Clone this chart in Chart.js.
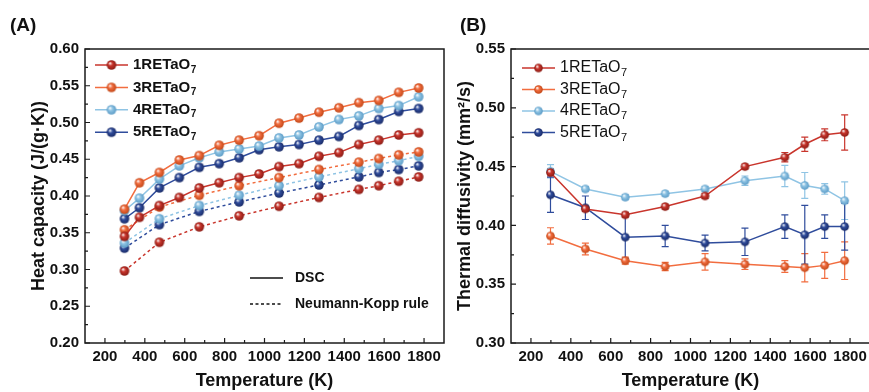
<!DOCTYPE html>
<html>
<head>
<meta charset="utf-8">
<script src="https://cdn.jsdelivr.net/npm/chart.js@4.4.1/dist/chart.umd.min.js"></script>
<style>
  html, body { margin: 0; padding: 0; background: #fff; overflow: hidden; }
  #wrap { position: relative; width: 869px; height: 392px; overflow: hidden; }
  #cp-chart { position: absolute; left: 0; top: 0; }
  #diff-chart { position: absolute; left: 440px; top: 0; }
</style>
</head>
<body>
<div id="wrap">
  <canvas id="cp-chart" width="450" height="392"></canvas>
  <canvas id="diff-chart" width="440" height="392"></canvas>
</div>
<script>
// Heat capacity (DSC + Neumann-Kopp) and thermal diffusivity of the RETaO7 samples
const sampleNames = ['1RETaO7', '3RETaO7', '4RETaO7', '5RETaO7'];

// temperatures (K)
const tempDSC = [298, 373, 473, 573, 673, 773, 873, 973, 1073, 1173, 1273, 1373, 1473, 1573, 1673, 1773];
const tempNK = [298, 473, 673, 873, 1073, 1273, 1473, 1573, 1673, 1773];
const tempDiff = [298, 473, 673, 873, 1073, 1273, 1473, 1573, 1673, 1773];

// heat capacity, DSC (J/(g·K))
const cpDSC1 = [0.345, 0.371, 0.387, 0.398, 0.411, 0.418, 0.425, 0.430, 0.440, 0.444, 0.454, 0.459, 0.470, 0.476, 0.483, 0.486];
const cpDSC3 = [0.382, 0.418, 0.432, 0.449, 0.455, 0.469, 0.476, 0.482, 0.499, 0.506, 0.514, 0.520, 0.527, 0.530, 0.541, 0.547];
const cpDSC4 = [0.380, 0.397, 0.423, 0.441, 0.452, 0.460, 0.464, 0.468, 0.479, 0.483, 0.494, 0.504, 0.509, 0.519, 0.523, 0.535];
const cpDSC5 = [0.369, 0.384, 0.411, 0.425, 0.439, 0.444, 0.452, 0.463, 0.467, 0.470, 0.476, 0.481, 0.496, 0.504, 0.515, 0.519];

// heat capacity, Neumann-Kopp rule
const cpNK1 = [0.298, 0.337, 0.358, 0.373, 0.386, 0.398, 0.409, 0.414, 0.420, 0.426];
const cpNK3 = [0.354, 0.385, 0.401, 0.414, 0.425, 0.436, 0.446, 0.451, 0.456, 0.460];
const cpNK4 = [0.336, 0.369, 0.387, 0.401, 0.414, 0.426, 0.437, 0.443, 0.448, 0.454];
const cpNK5 = [0.329, 0.361, 0.379, 0.392, 0.404, 0.415, 0.426, 0.432, 0.436, 0.441];

// thermal diffusivity (mm²/s) and error
const diff1 = [0.445, 0.414, 0.409, 0.416, 0.425, 0.450, 0.458, 0.469, 0.477, 0.479];
const diff3 = [0.391, 0.380, 0.370, 0.365, 0.369, 0.367, 0.365, 0.364, 0.366, 0.370];
const diff4 = [0.446, 0.431, 0.424, 0.427, 0.431, 0.438, 0.442, 0.434, 0.431, 0.421];
const diff5 = [0.426, 0.415, 0.390, 0.391, 0.385, 0.386, 0.399, 0.392, 0.399, 0.399];
const err1 = [0.003, 0.002, 0.002, 0.002, 0.002, 0.002, 0.004, 0.006, 0.005, 0.015];
const err3 = [0.007, 0.005, 0.003, 0.0035, 0.007, 0.0045, 0.005, 0.012, 0.011, 0.016];
const err4 = [0.0057, 0.002, 0.002, 0.002, 0.002, 0.004, 0.009, 0.011, 0.0045, 0.016];
const err5 = [0.015, 0.010, 0.018, 0.009, 0.0067, 0.0116, 0.010, 0.025, 0.010, 0.020];

// axis ticks
const tempTicks = [200, 400, 600, 800, 1000, 1200, 1400, 1600, 1800];
const cpTicks = [0.20, 0.25, 0.30, 0.35, 0.40, 0.45, 0.50, 0.55, 0.60];
const diffTicks = [0.30, 0.35, 0.40, 0.45, 0.50, 0.55];

const FONT = "'Liberation Sans', Arial, sans-serif";
const lineColors = ['#c9352c', '#f26d3f', '#8fc4e4', '#2f4c9c'];
const shadeColors = ['#8a1c15', '#c24818', '#5b9bc6', '#1b2c68'];

function makeBall(color, shade, r) {
  const c = document.createElement('canvas');
  const s = Math.ceil(r * 2 + 2);
  c.width = s; c.height = s;
  const g = c.getContext('2d');
  const cx = s / 2, cy = s / 2;
  const grad = g.createRadialGradient(cx - r * 0.35, cy - r * 0.4, r * 0.05, cx, cy, r);
  grad.addColorStop(0, '#ffffff');
  grad.addColorStop(0.4, color);
  grad.addColorStop(1, shade);
  g.fillStyle = grad;
  g.beginPath();
  g.arc(cx, cy, r, 0, Math.PI * 2);
  g.fill();
  return c;
}

const ballsA = lineColors.map((c, i) => makeBall(c, shadeColors[i], 4.8));
const ballsB = lineColors.map((c, i) => makeBall(c, shadeColors[i], 4.3));

function pts(xs, ys) {
  return xs.map((x, i) => ({ x: x, y: ys[i] }));
}

function drawFormula(ctx, text, x, y, weight, size) {
  const base = text.slice(0, -1), sub = text.slice(-1);
  ctx.font = weight + ' ' + size + 'px ' + FONT;
  ctx.textBaseline = 'middle';
  ctx.textAlign = 'left';
  ctx.fillText(base, x, y);
  const w = ctx.measureText(base).width;
  ctx.font = weight + ' ' + Math.round(size * 0.66) + 'px ' + FONT;
  ctx.fillText(sub, x + w + 0.5, y + size * 0.32);
}

// box around the plot area with inward ticks (major + minor)
const framePlugin = {
  id: 'frame',
  afterDraw(chart, args, opts) {
    const { ctx, chartArea: a, scales: { x, y } } = chart;
    ctx.save();
    ctx.strokeStyle = '#1a1a1a';
    ctx.lineWidth = 1.5;
    ctx.strokeRect(a.left, a.top, a.right - a.left, a.bottom - a.top);
    ctx.lineWidth = 1.2;
    ctx.beginPath();
    const xs = opts.xMajor, ys = opts.yMajor;
    const dx = xs[1] - xs[0], dy = ys[1] - ys[0];
    xs.forEach(v => {
      const p = x.getPixelForValue(v);
      ctx.moveTo(p, a.bottom); ctx.lineTo(p, a.bottom - 5);
    });
    [xs[0] - dx / 2].concat(xs.map(v => v + dx / 2)).forEach(v => {
      if (v <= x.min || v >= x.max) return;
      const p = x.getPixelForValue(v);
      ctx.moveTo(p, a.bottom); ctx.lineTo(p, a.bottom - 3);
    });
    ys.forEach(v => {
      const p = y.getPixelForValue(v);
      ctx.moveTo(a.left, p); ctx.lineTo(a.left + 5, p);
    });
    ys.slice(0, -1).forEach(v => {
      const p = y.getPixelForValue(v + dy / 2);
      ctx.moveTo(a.left, p); ctx.lineTo(a.left + 3, p);
    });
    ctx.stroke();
    ctx.restore();
  }
};

const errorBarPlugin = {
  id: 'errorBars',
  beforeDatasetsDraw(chart) {
    const { ctx, scales: { x, y } } = chart;
    chart.data.datasets.forEach(ds => {
      if (!ds.errors) return;
      ctx.save();
      ctx.strokeStyle = ds.borderColor;
      ctx.lineWidth = 1.2;
      ctx.beginPath();
      ds.data.forEach((p, j) => {
        const e = ds.errors[j];
        const px = x.getPixelForValue(p.x);
        const y1 = y.getPixelForValue(p.y - e), y2 = y.getPixelForValue(p.y + e);
        ctx.moveTo(px, y1); ctx.lineTo(px, y2);
        ctx.moveTo(px - 3.5, y1); ctx.lineTo(px + 3.5, y1);
        ctx.moveTo(px - 3.5, y2); ctx.lineTo(px + 3.5, y2);
      });
      ctx.stroke();
      ctx.restore();
    });
  }
};

// panel letter and hand-drawn legends (subscripted formulas)
const legendPlugin = {
  id: 'sampleLegend',
  afterDraw(chart, args, opts) {
    const ctx = chart.ctx;
    ctx.save();
    ctx.fillStyle = '#111';
    ctx.font = 'bold 19px ' + FONT;
    ctx.textBaseline = 'middle';
    ctx.textAlign = 'left';
    ctx.fillText(opts.panel, opts.panelX, 26);
    sampleNames.forEach((name, i) => {
      const y = opts.y0 + i * opts.dy;
      ctx.strokeStyle = lineColors[i];
      ctx.lineWidth = 1.5;
      ctx.setLineDash([]);
      ctx.beginPath();
      ctx.moveTo(opts.x0, y); ctx.lineTo(opts.x0 + 33, y);
      ctx.stroke();
      const b = opts.balls[i];
      ctx.drawImage(b, opts.x0 + 16.5 - b.width / 2, y - b.height / 2);
      ctx.fillStyle = '#111';
      drawFormula(ctx, name, opts.x0 + 38, y, opts.weight, opts.size);
    });
    if (opts.methods) {
      ctx.strokeStyle = '#111';
      ctx.lineWidth = 1.3;
      opts.methods.forEach((m, i) => {
        const y = 278 + i * 26;
        ctx.setLineDash(i === 0 ? [] : [3, 2.5]);
        ctx.beginPath();
        ctx.moveTo(250, y); ctx.lineTo(283, y);
        ctx.stroke();
        ctx.font = 'bold 14px ' + FONT;
        ctx.fillText(m, 295, y);
      });
    }
    ctx.restore();
  }
};

function tempAxis() {
  return {
    type: 'linear',
    min: 100,
    max: 1900,
    afterBuildTicks: s => { s.ticks = tempTicks.map(v => ({ value: v })); },
    afterFit: s => { s.height = 49; },
    grid: { display: false, drawTicks: false },
    border: { display: false },
    ticks: {
      autoSkip: false,
      maxRotation: 0,
      padding: 5,
      color: '#111',
      font: { family: FONT, size: 15, weight: 'bold' },
      callback: v => String(v)
    },
    title: {
      display: true,
      text: 'Temperature (K)',
      color: '#111',
      font: { family: FONT, size: 18, weight: 'bold' },
      padding: { top: 0, bottom: 0 }
    }
  };
}

function valueAxis(min, max, ticks, width, title, titlePad) {
  return {
    type: 'linear',
    min: min,
    max: max,
    afterBuildTicks: s => { s.ticks = ticks.map(v => ({ value: v })); },
    afterFit: s => { s.width = width; },
    grid: { display: false, drawTicks: false },
    border: { display: false },
    ticks: {
      padding: 6,
      color: '#111',
      font: { family: FONT, size: 15, weight: 'bold' },
      callback: v => v.toFixed(2)
    },
    title: {
      display: true,
      text: title,
      color: '#111',
      font: { family: FONT, size: 18, weight: 'bold' },
      padding: { top: titlePad, bottom: 0 }
    }
  };
}

const cpDSC = [cpDSC1, cpDSC3, cpDSC4, cpDSC5];
const cpNK = [cpNK1, cpNK3, cpNK4, cpNK5];

const cpDatasets = [];
cpDSC.forEach((ys, i) => {
  cpDatasets.push({
    label: sampleNames[i] + ' DSC',
    data: pts(tempDSC, ys),
    borderColor: lineColors[i],
    borderWidth: 1.5,
    pointStyle: ballsA[i],
    pointRadius: 4.5,
    tension: 0,
    fill: false
  });
});
cpNK.forEach((ys, i) => {
  cpDatasets.push({
    label: sampleNames[i] + ' Neumann-Kopp',
    data: pts(tempNK, ys),
    borderColor: lineColors[i],
    borderWidth: 1.5,
    borderDash: [3, 3],
    pointStyle: ballsA[i],
    pointRadius: 4.5,
    tension: 0,
    fill: false
  });
});

new Chart(document.getElementById('cp-chart'), {
  type: 'line',
  data: { datasets: cpDatasets },
  options: {
    responsive: false,
    animation: false,
    devicePixelRatio: 1,
    layout: { padding: { top: 49, right: 5, left: 0, bottom: 0 } },
    plugins: {
      legend: { display: false },
      tooltip: { enabled: false },
      frame: { xMajor: tempTicks, yMajor: cpTicks },
      sampleLegend: {
        panel: '(A)', panelX: 10, x0: 95, y0: 65, dy: 22.4,
        balls: ballsA, weight: 'bold', size: 15,
        methods: ['DSC', 'Neumann-Kopp rule']
      }
    },
    scales: {
      x: tempAxis(),
      y: valueAxis(0.20, 0.60, cpTicks, 85, 'Heat capacity (J/(g·K))', 28)
    }
  },
  plugins: [framePlugin, legendPlugin]
});

const diffData = [diff1, diff3, diff4, diff5];
const diffErr = [err1, err3, err4, err5];

new Chart(document.getElementById('diff-chart'), {
  type: 'line',
  data: {
    datasets: diffData.map((ys, i) => ({
      label: sampleNames[i],
      data: pts(tempDiff, ys),
      errors: diffErr[i],
      borderColor: lineColors[i],
      borderWidth: 1.5,
      pointStyle: ballsB[i],
      pointRadius: 4,
      tension: 0,
      fill: false
    }))
  },
  options: {
    responsive: false,
    animation: false,
    devicePixelRatio: 1,
    layout: { padding: { top: 49, right: 10, left: 0, bottom: 0 } },
    plugins: {
      legend: { display: false },
      tooltip: { enabled: false },
      frame: { xMajor: tempTicks, yMajor: diffTicks },
      sampleLegend: {
        panel: '(B)', panelX: 20, x0: 82, y0: 68, dy: 21.5,
        balls: ballsB, weight: 'normal', size: 16
      }
    },
    scales: {
      x: tempAxis(),
      y: valueAxis(0.30, 0.55, diffTicks, 71, 'Thermal diffusivity (mm²/s)', 14)
    }
  },
  plugins: [framePlugin, errorBarPlugin, legendPlugin]
});
</script>
</body>
</html>
